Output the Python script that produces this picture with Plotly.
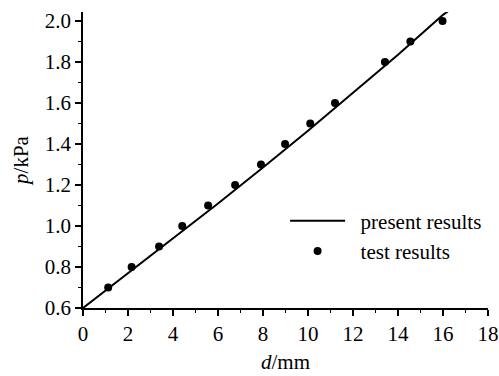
import plotly.graph_objects as go

# model curve (present results)
line_d = [0, 2, 4, 6, 8, 10, 12, 14, 16, 16.25]
line_p = [0.6, 0.77, 0.94, 1.11, 1.285, 1.465, 1.65, 1.835, 2.03, 2.05]

# test results
test_d = [1.12, 2.16, 3.38, 4.41, 5.56, 6.76, 7.91, 8.98, 10.1, 11.2, 13.42, 14.55, 15.98]
test_p = [0.7, 0.8, 0.9, 1.0, 1.1, 1.2, 1.3, 1.4, 1.5, 1.6, 1.8, 1.9, 2.0]

x_ticks = [0, 2, 4, 6, 8, 10, 12, 14, 16, 18]
y_ticks = [0.6, 0.8, 1.0, 1.2, 1.4, 1.6, 1.8, 2.0]

font = "Liberation Serif"
nb = "\u00a0\u00a0"

fig = go.Figure()
fig.add_trace(go.Scatter(x=line_d, y=line_p, mode="lines", name=nb + "present results",
                         line=dict(color="black", width=2)))
fig.add_trace(go.Scatter(x=test_d, y=test_p, mode="markers", name=nb + "test results",
                         marker=dict(color="black", size=8)))

axis_common = dict(
    showgrid=False, zeroline=False, showline=True, linecolor="black", linewidth=1.5,
    ticks="outside", ticklen=6, tickwidth=1.5, tickcolor="black",
    tickfont=dict(family=font, size=21, color="black"),
    minor=dict(ticks="outside", ticklen=3, tickwidth=1.2, tickcolor="black"),
    automargin=False,
)

fig.update_xaxes(range=[0, 18], tickvals=x_ticks, ticktext=[str(v) for v in x_ticks],
                 minor_dtick=1,
                 title=dict(text="<i>d</i>/mm", font=dict(family=font, size=21, color="black"), standoff=9),
                 **axis_common)
fig.update_yaxes(range=[0.6, 2.044], tickvals=y_ticks, ticktext=[f"{v:.1f}" for v in y_ticks],
                 minor_dtick=0.1,
                 title=dict(text="<i>p</i>/kPa", font=dict(family=font, size=21, color="black"), standoff=10),
                 **axis_common)

fig.update_layout(
    width=499, height=376,
    margin=dict(l=83, r=11, t=12, b=68),
    paper_bgcolor="white", plot_bgcolor="white",
    font=dict(family=font, size=21, color="black"),
    showlegend=True,
    legend=dict(x=0.499, y=0.243, xanchor="left", yanchor="middle",
                font=dict(family=font, size=21, color="black"),
                bgcolor="rgba(0,0,0,0)", itemwidth=55, tracegroupgap=0),
)

fig.write_html("out.html", config={"displayModeBar": False},
               post_script="document.body.style.margin='0';document.body.style.padding='0';")
